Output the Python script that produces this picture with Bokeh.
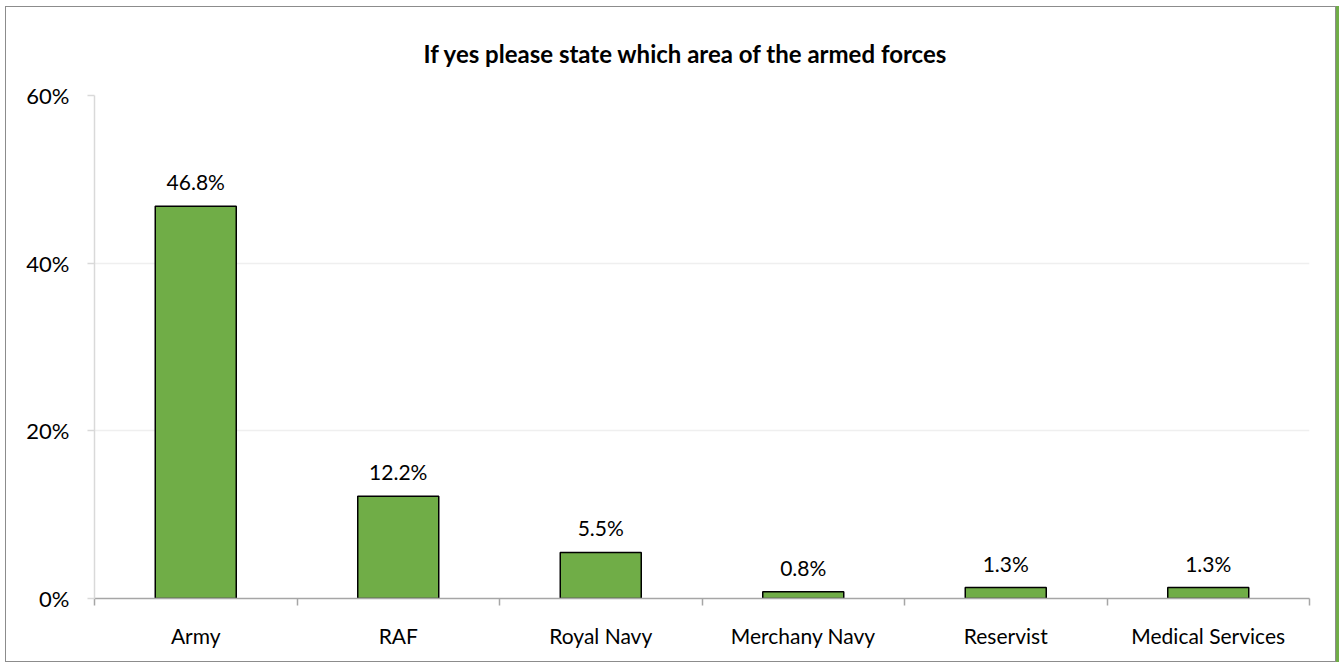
from bokeh.plotting import figure
from bokeh.models import ColumnDataSource, FixedTicker, Range1d, LabelSet, Title
from bokeh.core.properties import value
from bokeh.embed import file_html
from bokeh.resources import INLINE

categories = ["Army", "RAF", "Royal Navy", "Merchany Navy", "Reservist", "Medical Services"]
values = [46.8, 12.2, 5.5, 0.8, 1.3, 1.3]
y_ticks = [0, 20, 40, 60]
y_tick_labels = ["0%", "20%", "40%", "60%"]
title_text = "If yes please state which area of the armed forces"

n = len(categories)
xs = [i + 0.5 for i in range(n)]
src = ColumnDataSource(dict(x=xs, top=values, label=[f"{v:.1f}%" for v in values]))

FONT = "Lato"

p = figure(width=1331, height=656, output_backend="svg", toolbar_location=None,
           x_range=Range1d(0, n), y_range=Range1d(0, 60),
           min_border_left=88, min_border_right=28, min_border_top=88, min_border_bottom=65)
p.outline_line_color = None
p.styles = {"border": "1.5px solid #8c8c8c", "margin-left": "5px", "margin-top": "6px",
            "box-shadow": "3px 0 0 #70AD47", "box-sizing": "border-box"}

p.vbar(x="x", top="top", width=0.4, source=src, fill_color="#70AD47",
       line_color="black", line_width=1.5)

labels = LabelSet(x="x", y="top", text="label", source=src, text_align="center",
                  text_baseline="bottom", y_offset=12, text_font_size="21px",
                  text_font=value(FONT), text_color="black")
p.add_layout(labels)

t = Title(text=title_text, align="left", text_font=FONT, text_font_size="24px",
          text_font_style="bold", text_color="black", offset=329, standoff=55)
p.add_layout(t, "above")

# x axis
p.xaxis.ticker = FixedTicker(ticks=xs, minor_ticks=list(range(n + 1)))
p.xaxis.major_label_overrides = {x: c for x, c in zip(xs, categories)}
p.xaxis.major_tick_out = 0
p.xaxis.major_tick_in = 0
p.xaxis.minor_tick_out = 7
p.xaxis.minor_tick_in = 0
p.xaxis.minor_tick_line_color = "#a6a6a6"
p.xaxis.minor_tick_line_width = 1.5
p.xaxis.axis_line_color = "#a6a6a6"
p.xaxis.axis_line_width = 1.5
p.xaxis.major_label_text_font = FONT
p.xaxis.major_label_text_font_size = "21px"
p.xaxis.major_label_text_color = "black"
p.xaxis.major_label_standoff = 17

# y axis
p.yaxis.ticker = FixedTicker(ticks=y_ticks)
p.yaxis.major_label_overrides = {t_: l for t_, l in zip(y_ticks, y_tick_labels)}
p.yaxis.major_tick_out = 7
p.yaxis.major_tick_in = 0
p.yaxis.minor_tick_line_color = None
p.yaxis.major_tick_line_color = "#d9d9d9"
p.yaxis.major_tick_line_width = 1.5
p.yaxis.axis_line_color = "#d9d9d9"
p.yaxis.axis_line_width = 1.5
p.yaxis.major_label_text_font = FONT
p.yaxis.major_label_text_font_size = "22px"
p.yaxis.major_label_text_color = "black"
p.yaxis.major_label_standoff = 18

p.xgrid.grid_line_color = None
p.ygrid.grid_line_color = "#efefef"
p.ygrid.grid_line_width = 1.5

open("out.html", "w").write(file_html(p, INLINE))
